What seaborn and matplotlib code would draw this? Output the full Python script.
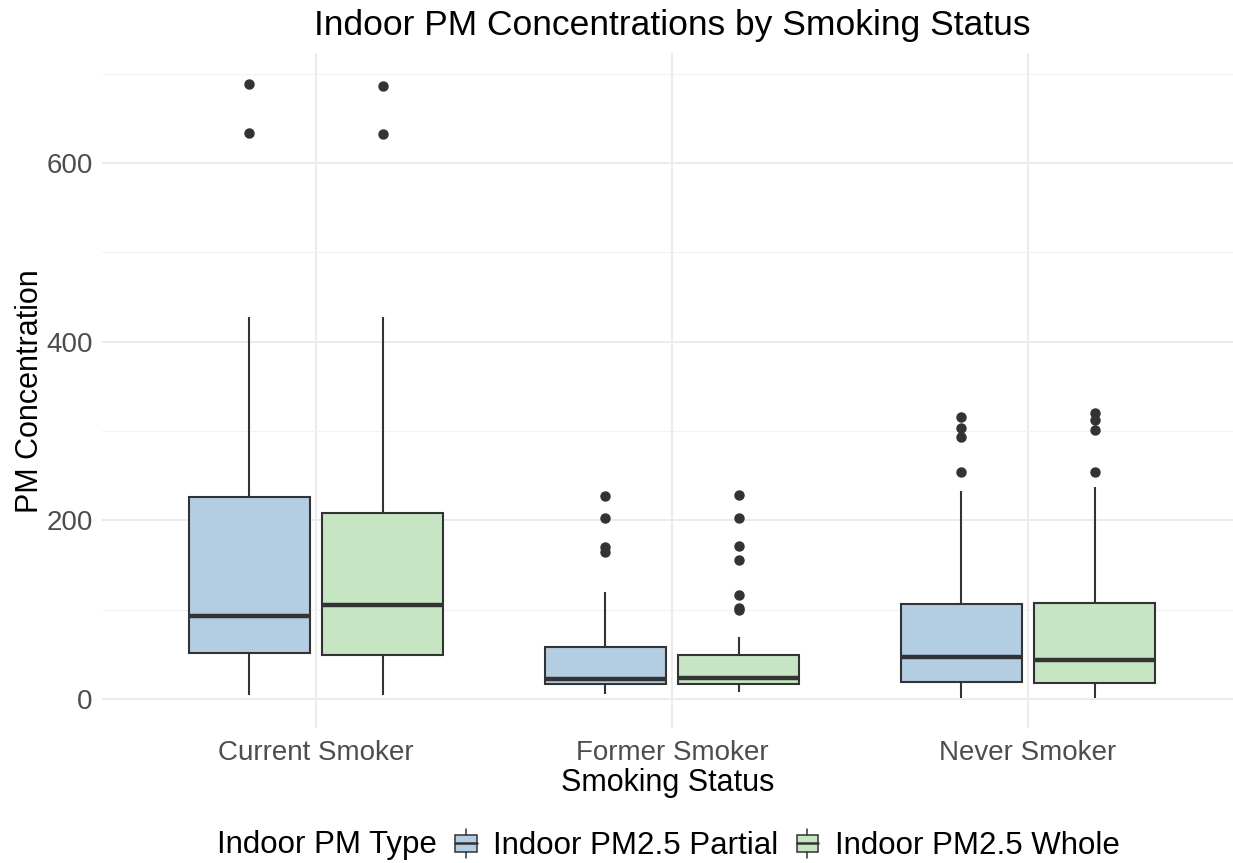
import numpy as np
import pandas as pd
import matplotlib
matplotlib.use("Agg")
import matplotlib.pyplot as plt
import seaborn as sns
from matplotlib.patches import Patch, Rectangle
from matplotlib.lines import Line2D
from matplotlib.legend_handler import HandlerBase

# ---------------- data ----------------
statuses = ["Current Smoker", "Former Smoker", "Never Smoker"]
pm_types = ["Indoor PM2.5 Partial", "Indoor PM2.5 Whole"]

current_partial = [4.5, 12, 18, 24, 29, 33, 37, 41, 45, 48, 51.8,
                   55, 59, 63, 67, 71, 75, 79, 83, 88, 92.5,
                   101, 112, 124, 137, 150, 164, 178, 193, 209, 225.7,
                   244, 262, 281, 302, 325, 352, 388, 428,
                   633, 688.6]
current_whole = [4.5, 11, 17, 22, 27, 31, 35, 39, 43, 46, 49.2,
                 54, 60, 66, 72, 78, 84, 89, 94, 99, 104.9,
                 112, 120, 129, 138, 148, 158, 169, 181, 194, 208.5,
                 226, 245, 266, 290, 318, 350, 386, 428,
                 632.3, 685.7]
former_partial = [5.6, 8, 10, 11.5, 12.5, 13.5, 14.3, 15, 15.6, 16.2, 16.8,
                  17.3, 17.8, 18.3, 18.8, 19.3, 19.9, 20.5, 21.1, 21.7, 22.4,
                  24, 26, 28.5, 31, 34, 37.5, 41.5, 46, 52, 58.6,
                  66, 74, 83, 94, 106, 119.4,
                  164.5, 169.8, 202.2, 227.2]
former_whole = [7.5, 9.5, 11, 12.2, 13.2, 14, 14.7, 15.3, 15.8, 16.3, 16.8,
                17.5, 18.2, 18.9, 19.6, 20.3, 21, 21.7, 22.3, 22.9, 23.5,
                25, 27, 29, 31, 33.5, 36, 39, 42, 45.5, 49.2,
                55, 62, 69.7,
                99.5, 101.5, 116.4, 155.6, 171.6, 202.6, 228.7]
never_partial = [1.5, 4, 6.5, 8.5, 10.5, 12, 13.5, 15, 16.3, 17.5, 18.7,
                 21, 23.5, 26, 28.5, 31, 34, 37, 40, 43.3, 46.7,
                 51, 56, 61, 66, 72, 78, 84, 91, 98, 106,
                 122, 140, 160, 182, 206, 232.8,
                 253.7, 293.6, 303, 316]
never_whole = [1.5, 4, 6, 8, 10, 11.5, 13, 14.3, 15.5, 16.6, 17.6,
               20, 22.5, 25, 27.5, 30, 32.8, 35.5, 38.3, 41, 43.6,
               48, 53, 58.5, 64, 70, 76.5, 83, 90, 98, 107,
               124, 143, 164, 187, 211, 236.9,
               254.4, 301, 312.3, 319.7]

y_ticks = [0, 200, 400, 600]
y_minor = [100, 300, 500, 700]

groups = {
    ("Current Smoker", "Indoor PM2.5 Partial"): current_partial,
    ("Current Smoker", "Indoor PM2.5 Whole"): current_whole,
    ("Former Smoker", "Indoor PM2.5 Partial"): former_partial,
    ("Former Smoker", "Indoor PM2.5 Whole"): former_whole,
    ("Never Smoker", "Indoor PM2.5 Partial"): never_partial,
    ("Never Smoker", "Indoor PM2.5 Whole"): never_whole,
}
rows = []
for (s, t), vals in groups.items():
    for v in vals:
        rows.append({"Smoking Status": s, "Indoor PM Type": t, "PM Concentration": v})
df = pd.DataFrame(rows)

colors = {"Indoor PM2.5 Partial": "#B3CDE3", "Indoor PM2.5 Whole": "#C6E5C3"}
edge = "#333333"

# ---------------- style ----------------
sns.set_theme(style="whitegrid")
plt.rcParams["font.family"] = ["Liberation Sans", "DejaVu Sans"]

W, H = 1233, 863
fig = plt.figure(figsize=(W / 100, H / 100), dpi=100)
ax = fig.add_axes([102.4 / W, (H - 728.4) / H, (W - 102.4) / W, (728.4 - 53) / H])

sns.boxplot(data=df, x="Smoking Status", y="PM Concentration", hue="Indoor PM Type",
            order=statuses, hue_order=pm_types, palette=colors, saturation=1,
            width=0.75, gap=0.09, linecolor=edge, linewidth=1.5,
            showcaps=False, whis=1.5,
            medianprops=dict(color=edge, linewidth=3.2),
            flierprops=dict(marker="o", markersize=6.5, markerfacecolor=edge,
                            markeredgecolor=edge),
            legend=False, ax=ax)

ax.set_xlim(-0.6, 2 + (W - 1028) / 356)
ax.set_ylim(-33, 723)
ax.set_yticks(y_ticks)
ax.set_yticks(y_minor, minor=True)
ax.set_facecolor("white")
for sp in ax.spines.values():
    sp.set_visible(False)
ax.grid(which="major", axis="both", color="#EBEBEB", linewidth=1.4)
ax.grid(which="minor", axis="y", color="#F2F2F2", linewidth=0.8)
ax.set_axisbelow(True)
ax.tick_params(axis="both", which="both", length=0, labelsize=20, labelcolor="#4D4D4D")
ax.tick_params(axis="x", pad=8)
ax.tick_params(axis="y", pad=7)
ax.set_xlabel("Smoking Status", fontsize=22, color="black", labelpad=2)
ax.set_ylabel("PM Concentration", fontsize=22, color="black", labelpad=1)

fig.text(672 / W, 1 - 25 / H, "Indoor PM Concentrations by Smoking Status",
         ha="center", va="center", fontsize=25.5, color="black")


# ---------------- legend ----------------
class BoxKeyHandler(HandlerBase):
    def create_artists(self, legend, orig_handle, xdescent, ydescent, width, height,
                       fontsize, trans):
        fc = orig_handle.get_facecolor()
        x0, y0 = -xdescent, -ydescent
        cx = x0 + width / 2
        bw = width * 0.72
        yb, yt = y0 + height * 0.2, y0 + height * 0.8
        rect = Rectangle((cx - bw / 2, yb), bw, yt - yb, facecolor=fc,
                         edgecolor=edge, linewidth=1.1, transform=trans)
        ym = (yb + yt) / 2
        med = Line2D([cx - bw / 2, cx + bw / 2], [ym, ym], color=edge, linewidth=1.8,
                     transform=trans)
        wl = Line2D([cx, cx], [y0, yb], color=edge, linewidth=1.1, transform=trans)
        wu = Line2D([cx, cx], [yt, y0 + height], color=edge, linewidth=1.1, transform=trans)
        return [rect, med, wl, wu]


handles = [Patch(facecolor=colors[t], edgecolor=edge) for t in pm_types]
fig.text(217 / W, 1 - 845 / H, "Indoor PM Type", ha="left", va="center",
         fontsize=22.5, color="black")
leg = fig.legend(handles, pm_types, loc="center left",
                 bbox_to_anchor=(451 / W, 1 - 845 / H), ncol=2, frameon=False,
                 fontsize=22.5, handlelength=0.95, handleheight=1.05,
                 handletextpad=0.4, columnspacing=0.45, borderpad=0, borderaxespad=0,
                 labelcolor="black",
                 handler_map={Patch: BoxKeyHandler()})

fig.savefig("out.png", dpi=100, facecolor="white")
